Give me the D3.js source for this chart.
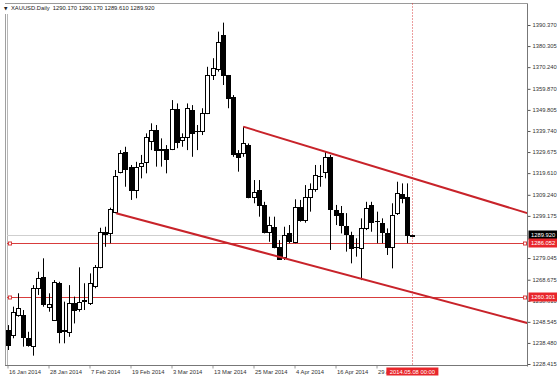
<!DOCTYPE html>
<html>
<head>
<meta charset="utf-8">
<script src="https://cdn.jsdelivr.net/npm/d3@7"></script>
<style>
body { margin: 0; background: #fff; }
svg { display: block; font-family: "Liberation Sans", Arial, sans-serif; }
</style>
</head>
<body>
<div id="plot"></div>
<script>
// daily XAUUSD bars, 16 Jan 2014 .. 8 May 2014 (index = trading day)
var opens  = [1244.7,1242.2,1251.8,1251.8,1240.7,1236.7,1264.6,1269.8,1255.5,1249.4,
              1267.3,1244.6,1243.8,1257.7,1255.0,1259.0,1257.4,1265.3,1274.6,1291.3,
              1291.1,1301.2,1319.8,1329.8,1322.7,1311.5,1322.7,1324.6,1335.1,1340.2,
              1331.0,1331.0,1331.0,1350.1,1335.1,1336.7,1349.8,1339.6,1339.9,1348.5,
              1366.5,1369.7,1385.6,1366.5,1356.1,1329.1,1329.1,1333.0,1308.3,1311.5,
              1304.4,1291.6,1294.0,1284.4,1279.7,1290.8,1286.8,1303.3,1297.2,1308.3,
              1311.9,1318.2,1320.0,1327.1,1302.0,1300.5,1294.3,1290.0,1284.1,1283.7,
              1293.2,1304.4,1296.6,1295.6,1291.1,1284.4,1300.4,1309.5,1308.3,1290.17];
var highs  = [1247.0,1255.8,1262.2,1254.2,1243.8,1266.1,1272.5,1278.9,1262.2,1268.5,
              1267.7,1258.2,1266.1,1260.6,1274.6,1267.0,1271.7,1275.7,1293.5,1294.0,
              1303.1,1321.1,1330.6,1332.2,1323.5,1325.0,1328.3,1338.6,1343.4,1342.6,
              1336.2,1333.0,1354.5,1352.9,1338.6,1352.9,1352.1,1342.6,1350.6,1370.4,
              1374.5,1387.2,1391.5,1366.5,1356.9,1330.6,1341.8,1333.8,1316.3,1316.3,
              1305.9,1298.8,1298.8,1287.6,1294.0,1294.8,1307.1,1306.8,1313.9,1314.7,
              1323.5,1323.5,1329.8,1328.3,1304.4,1303.9,1300.5,1291.6,1288.5,1298.0,
              1305.9,1305.9,1301.2,1298.0,1293.2,1305.2,1315.5,1314.7,1314.7,1290.17];
var lows   = [1235.1,1240.7,1251.0,1236.7,1236.7,1232.4,1261.4,1255.8,1253.4,1249.0,
              1238.3,1238.3,1241.4,1247.8,1253.4,1254.2,1256.6,1264.6,1274.1,1284.4,
              1286.1,1300.4,1319.5,1313.1,1306.8,1307.6,1317.1,1319.5,1330.6,1322.7,
              1322.7,1319.5,1330.6,1331.5,1332.2,1330.6,1327.4,1330.6,1337.8,1347.8,
              1364.1,1368.1,1361.7,1350.6,1327.4,1320.3,1327.4,1307.6,1305.2,1298.8,
              1290.8,1286.8,1283.7,1278.1,1278.1,1286.1,1286.1,1296.4,1295.9,1301.2,
              1310.7,1313.1,1317.1,1282.9,1294.8,1290.8,1282.1,1276.5,1279.7,1268.5,
              1292.4,1291.6,1286.1,1286.1,1280.5,1274.1,1299.6,1305.2,1286.1,1289.61];
var closes = [1237.5,1253.4,1255.0,1241.4,1237.5,1264.6,1269.3,1257.1,1257.1,1267.7,
              1243.8,1244.2,1257.7,1254.5,1258.2,1258.6,1267.0,1274.6,1291.3,1290.5,
              1302.5,1318.4,1329.0,1321.9,1311.5,1322.7,1324.3,1336.7,1340.2,1330.6,
              1330.6,1326.2,1350.2,1334.1,1336.7,1350.6,1338.9,1339.4,1348.5,1366.5,
              1369.7,1382.4,1366.5,1355.3,1329.1,1327.4,1333.9,1308.3,1310.7,1304.4,
              1291.6,1294.8,1284.4,1278.9,1290.0,1286.8,1303.3,1297.2,1308.3,1311.9,
              1318.7,1318.0,1327.4,1302.3,1299.6,1294.8,1290.5,1283.7,1283.9,1293.2,
              1302.8,1296.4,1296.4,1291.1,1284.4,1299.6,1309.9,1307.6,1290.0,1289.92];

var dateTicks  = [0, 8, 16, 24, 32, 40, 48, 56, 64, 72];
var dateLabels = ["16 Jan 2014","28 Jan 2014","7 Feb 2014","19 Feb 2014","3 Mar 2014",
                  "13 Mar 2014","25 Mar 2014","4 Apr 2014","16 Apr 2014","29 Apr 2014"];
// 1289.110 sits under the bid tag, so it is left out like in the terminal
var priceTicks = [1390.370,1380.305,1370.240,1359.870,1349.805,1339.740,1329.675,1319.610,
                  1309.240,1299.175,1279.045,1268.675,1258.610,1248.545,1238.480,1228.415];

var levels = [1286.052, 1260.301];
var bid = 1289.920;
var separatorIndex = 79;
var separatorLabel = "2014.05.08 00:00";
var header = "XAUUSD.Daily  1290.170 1290.170 1289.610 1289.920";
// trend channel, [bar index, price]
var channelTop    = [[46, 1341.8], [101.4, 1300.5]];
var channelBottom = [[21.2, 1300.4], [101.4, 1248.0]];

var W = 557, H = 378;
var plotLeft = 7, plotRight = 527.5, plotTop = 3.5, plotBottom = 365.5;
var red = "#c8232a";
var levelRed = "#d83c3c";

var svg = d3.select("div#plot")
  .append("svg")
    .attr("width", W)
    .attr("height", H);

var x = d3.scaleLinear()
  .domain([0, 79])
  .range([7.5, 412.4]);

var y = d3.scaleLinear()
  .domain([1228.415, 1390.370])
  .range([364, 25]);

var bars = d3.range(opens.length).map(function(i) {
  return { i: i, o: opens[i], h: highs[i], l: lows[i], c: closes[i] };
});

// frame
svg.append("line").attr("x1", 5).attr("x2", plotRight).attr("y1", plotTop).attr("y2", plotTop)
  .attr("stroke", "#9a9a9a");
svg.append("line").attr("x1", 5.5).attr("x2", 5.5).attr("y1", 14).attr("y2", plotBottom)
  .attr("stroke", "#a0a0a0");
svg.append("line").attr("x1", 7.5).attr("x2", 7.5).attr("y1", 14).attr("y2", plotBottom)
  .attr("stroke", "#b8b8b8");

// bid line and horizontal levels
svg.append("line")
  .attr("x1", plotLeft).attr("x2", plotRight)
  .attr("y1", Math.round(y(bid)) + 0.5).attr("y2", Math.round(y(bid)) + 0.5)
  .attr("stroke", "#cfcfcf");

var lvl = svg.selectAll("g.level")
  .data(levels)
  .enter().append("g")
  .attr("class", "level")
  .attr("transform", function(d) { return "translate(0," + (Math.round(y(d)) + 0.5) + ")"; });

lvl.append("line")
  .attr("x1", plotLeft).attr("x2", plotRight)
  .attr("stroke", levelRed);
lvl.append("rect")
  .attr("x", 8.5).attr("y", -1.5).attr("width", 3).attr("height", 3)
  .attr("fill", "#fff").attr("stroke", levelRed);
lvl.append("rect")
  .attr("x", plotRight - 4).attr("y", -1.5).attr("width", 3).attr("height", 3)
  .attr("fill", "#fff").attr("stroke", levelRed);

// vertical separator
svg.append("line")
  .attr("x1", Math.round(x(separatorIndex)) + 0.5).attr("x2", Math.round(x(separatorIndex)) + 0.5)
  .attr("y1", plotTop).attr("y2", plotBottom)
  .attr("stroke", levelRed)
  .attr("stroke-dasharray", "1,2");

// candles
var candle = svg.selectAll("g.bar")
  .data(bars)
  .enter().append("g")
  .attr("class", "bar")
  .attr("transform", function(d) { return "translate(" + Math.round(x(d.i)) + ",0)"; });

candle.append("line")
  .attr("x1", 0.5).attr("x2", 0.5)
  .attr("y1", function(d) { return y(d.h); })
  .attr("y2", function(d) { return y(d.l); })
  .attr("stroke", "#000");

candle.append("rect")
  .attr("x", -1.5)
  .attr("width", 4)
  .attr("y", function(d) { return Math.round(y(Math.max(d.o, d.c))) + 0.5; })
  .attr("height", function(d) { return Math.max(0.01, Math.round(Math.abs(y(d.o) - y(d.c)))); })
  .attr("fill", function(d) { return d.c >= d.o ? "#fff" : "#000"; })
  .attr("stroke", "#000");

// trend channel
var line = d3.line()
  .x(function(d) { return x(d[0]); })
  .y(function(d) { return y(d[1]); });

svg.selectAll("path.channel")
  .data([channelTop, channelBottom])
  .enter().append("path")
  .attr("class", "channel")
  .attr("d", line)
  .attr("fill", "none")
  .attr("stroke", red)
  .attr("stroke-width", 2);

// price axis
var yAxis = d3.axisRight()
  .scale(y)
  .tickValues(priceTicks)
  .tickSize(3)
  .tickPadding(2)
  .tickFormat(d3.format(".3f"));

var gy = svg.append("g")
  .attr("transform", "translate(" + plotRight + ",0)")
  .call(yAxis);
gy.select(".domain").remove();
gy.attr("font-size", 5.8).attr("font-family", null);
gy.selectAll("line").attr("stroke", "#555");
gy.selectAll("text").attr("fill", "#333");

svg.append("line").attr("x1", plotRight).attr("x2", plotRight).attr("y1", plotTop).attr("y2", plotBottom + 1)
  .attr("stroke", "#777");

// time axis
var xAxis = d3.axisBottom()
  .scale(x)
  .tickValues(dateTicks)
  .tickSize(3)
  .tickFormat(function(d, i) { return dateLabels[i]; });

var gx = svg.append("g")
  .attr("transform", "translate(0," + plotBottom + ")")
  .call(xAxis);
gx.select(".domain").remove();
gx.attr("font-size", 5.8).attr("font-family", null);
gx.selectAll("line").attr("stroke", "#999");
gx.selectAll("text")
  .attr("fill", "#333")
  .attr("text-anchor", "start")
  .attr("x", 1)
  .attr("y", 4);

svg.append("line").attr("x1", 5).attr("x2", plotRight).attr("y1", plotBottom).attr("y2", plotBottom)
  .attr("stroke", "#777");

// price labels on the axis
function priceTag(v, bg) {
  var g = svg.append("g").attr("transform", "translate(" + (plotRight + 1) + "," + Math.round(y(v)) + ")");
  g.append("rect").attr("x", 0).attr("y", -4.5).attr("width", W - plotRight).attr("height", 9).attr("fill", bg);
  g.append("text").attr("x", 2.5).attr("dy", "0.35em").attr("font-size", 5.8)
    .attr("fill", "#fff").text(d3.format(".3f")(v));
}
priceTag(bid, "#000");
levels.forEach(function(v) { priceTag(v, "#e8262b"); });

// separator date tag
var sx = x(separatorIndex);
svg.append("rect").attr("x", sx - 26).attr("y", plotBottom + 2).attr("width", 52).attr("height", 8)
  .attr("fill", "#e8262b");
svg.append("text").attr("x", sx).attr("y", plotBottom + 8).attr("text-anchor", "middle")
  .attr("font-size", 5.8).attr("fill", "#fff").text(separatorLabel);

// header
svg.append("text").attr("x", 4).attr("y", 10).attr("font-size", 4.5).attr("fill", "#222")
  .attr("font-family", "DejaVu Sans").text("\u25BC");
svg.append("text").attr("x", 11).attr("y", 10).attr("font-size", 5.8).attr("fill", "#222")
  .attr("xml:space", "preserve").style("white-space", "pre").text(header);
</script>
</body>
</html>
